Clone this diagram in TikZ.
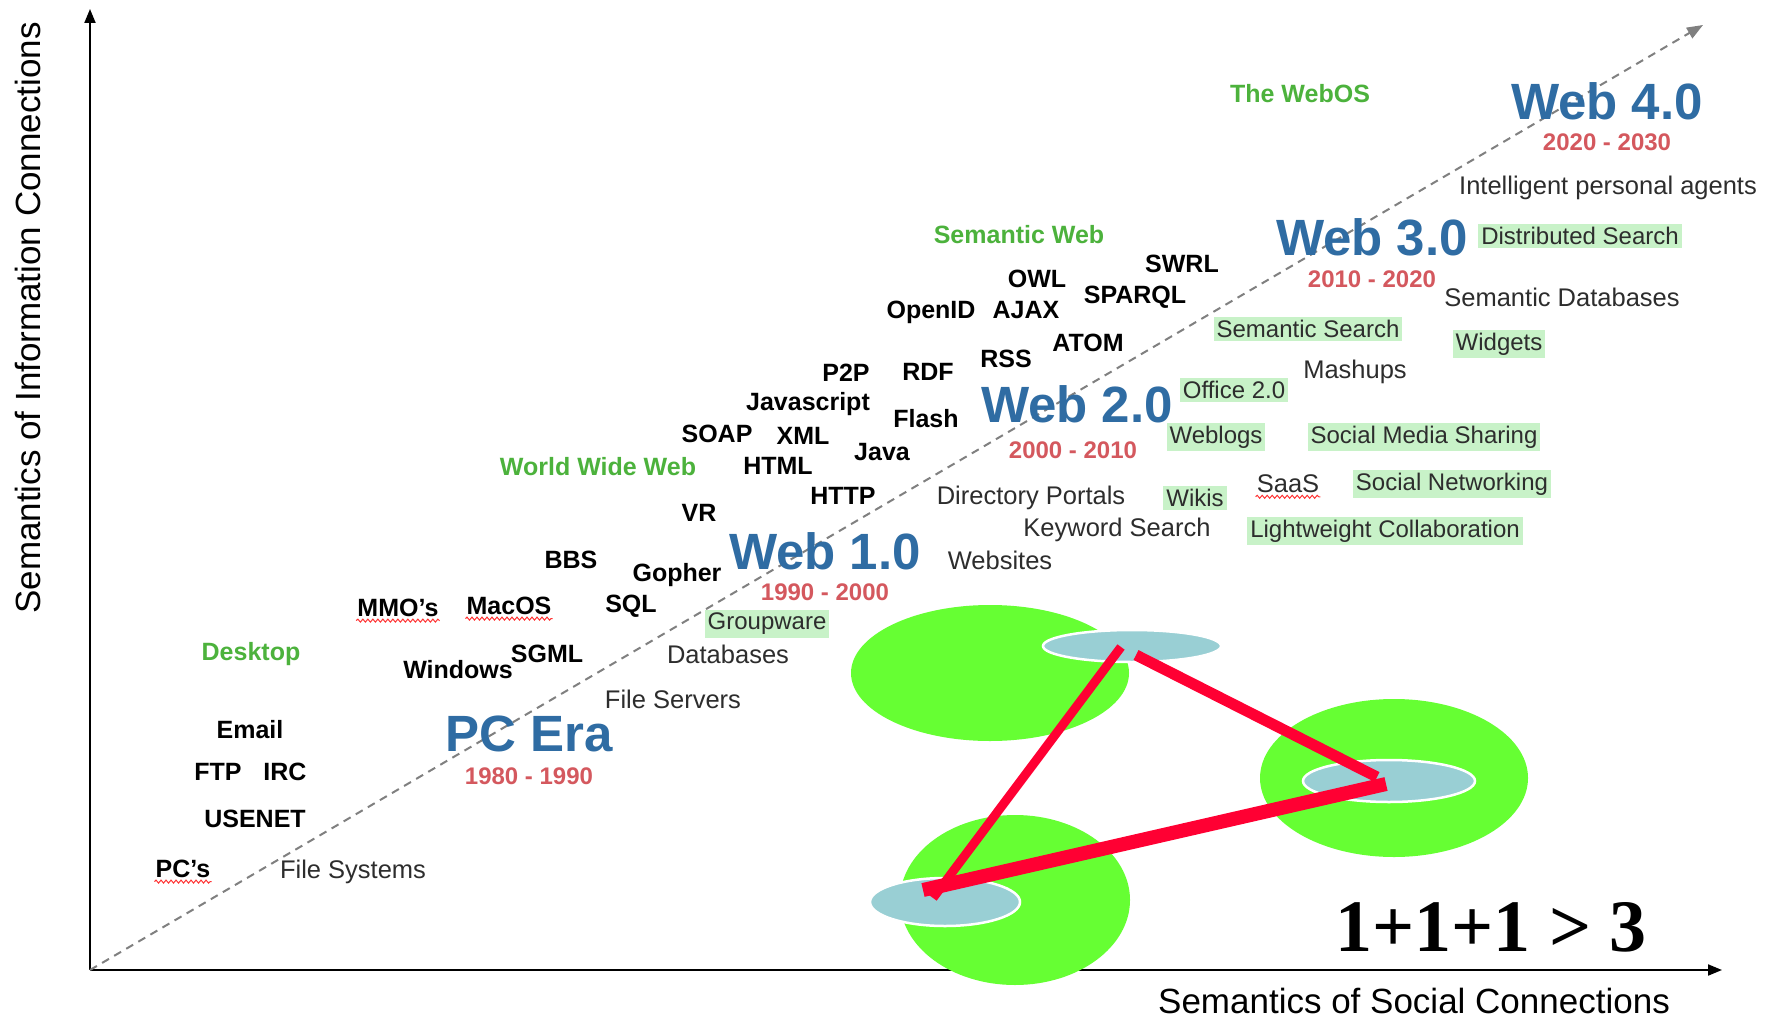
\documentclass[tikz,border=0pt]{standalone}
\usepackage{fontspec}
\setmainfont{Liberation Sans}
\newfontfamily\timesbold{Liberation Serif}
\usetikzlibrary{positioning,arrows.meta,shapes.geometric,decorations.pathmorphing}

\definecolor{webblue}{RGB}{47,108,163}
\definecolor{datered}{RGB}{212,88,94}
\definecolor{headgreen}{RGB}{76,178,60}
\definecolor{boxgreen}{RGB}{200,242,200}
\definecolor{blobgreen}{RGB}{102,255,51}
\definecolor{poolblue}{RGB}{153,207,212}
\definecolor{linkred}{RGB}{255,0,51}
\definecolor{labelgray}{RGB}{45,45,45}

\tikzset{
  era/.style={text=webblue, font=\bfseries\fontsize{51}{56}\selectfont, inner sep=0pt},
  span/.style={text=datered, font=\bfseries\fontsize{24}{28}\selectfont, inner sep=0pt},
  tech/.style={font=\bfseries\fontsize{25}{28}\selectfont, inner sep=1pt},
  heading/.style={text=headgreen, font=\bfseries\fontsize{25}{28}\selectfont, inner sep=1pt},
  plain/.style={text=labelgray, font=\fontsize{25.5}{28}\selectfont, inner sep=1pt},
  tag/.style={plain, font=\fontsize{24}{28}\selectfont, fill=boxgreen, inner sep=3pt},
  spell/.style={draw=red!80, line width=1pt, decorate, decoration={snake, amplitude=1.5pt, segment length=5pt}},
  pool/.style={ellipse, fill=poolblue, draw=white, line width=2.5pt, inner sep=0pt},
  link/.style={draw=linkred, line width=10pt},
  axis/.style={draw=black, line width=2pt, -{Triangle[length=14pt,width=11pt]}},
}

\begin{document}
\begin{tikzpicture}[x=1pt, y=-1pt]
\fill[white] (0,0) rectangle (1768,1024);
\useasboundingbox (0,0) rectangle (1768,1024);

\coordinate (origin) at (90,970);
\coordinate (ytop) at (90,9);
\coordinate (xend) at (1722,970);
\coordinate (future) at (1703,25);

\draw[axis] (origin) -- (ytop);
\draw[axis] (origin) -- (xend);
\draw[gray, line width=2pt, dash pattern=on 8pt off 6pt, -{Triangle[length=16pt,width=12pt]}] (origin) -- (future);

\node[rotate=90, font=\fontsize{35}{38}\selectfont, inner sep=0pt] (ylab) at (28,318) {Semantics of Information Connections};
\node[font=\fontsize{35}{38}\selectfont, inner sep=0pt] (xlab) at (1414,1001) {Semantics of Social Connections};

\node[era] (pcera) at (529,734) {PC Era};
\node[span, below=15pt of pcera] (d0) {1980 - 1990};
\node[era] (web1) at (825,551) {Web 1.0};
\node[span, below=14pt of web1] (d1) {1990 - 2000};
\node[era] (web2) at (1077,404) {Web 2.0};
\node[span, below=19pt of web2, xshift=-4pt] (d2) {2000 - 2010};
\node[era] (web3) at (1372,237) {Web 3.0};
\node[span, below=15pt of web3] (d3) {2010 - 2020};
\node[era] (web4) at (1607,101) {Web 4.0};
\node[span, below=14pt of web4] (d4) {2020 - 2030};

\node[heading] (desktop) at (251,654) {Desktop};
\node[heading] (www) at (598,467) {World Wide Web};
\node[heading] (semweb) at (1019,235) {Semantic Web};
\node[heading] (webos) at (1300,94) {The WebOS};

\node[tech] (pcs) at (183,869) {PC’s};
\node[tech] (usenet) at (255,819) {USENET};
\node[tech] (ftp) at (218,772) {FTP};
\node[tech] (irc) at (285,772) {IRC};
\node[tech] (email) at (250,730) {Email};
\node[tech] (windows) at (458,670) {Windows};
\node[tech] (sgml) at (547,654) {SGML};
\node[tech] (mmo) at (398,608) {MMO’s};
\node[tech] (macos) at (509,606) {MacOS};
\node[tech] (sql) at (631,606) {SQL};
\node[tech] (bbs) at (571,560) {BBS};
\node[tech] (gopher) at (677,575) {Gopher};
\node[tech] (vr) at (699,513) {VR};
\node[tech] (http) at (843,496) {HTTP};
\node[tech] (html) at (778,466) {HTML};
\node[tech] (java) at (882,452) {Java};
\node[tech] (soap) at (717,434) {SOAP};
\node[tech] (xml) at (803,436) {XML};
\node[tech] (flash) at (926,419) {Flash};
\node[tech] (javascript) at (808,404) {Javascript};
\node[tech] (ptp) at (846,373) {P2P};
\node[tech] (rdf) at (928,372) {RDF};
\node[tech] (rss) at (1006,359) {RSS};
\node[tech] (atom) at (1088,343) {ATOM};
\node[tech] (openid) at (931,312) {OpenID};
\node[tech] (ajax) at (1026,310) {AJAX};
\node[tech] (sparql) at (1135,297) {SPARQL};
\node[tech] (owl) at (1037,279) {OWL};
\node[tech] (swrl) at (1182,264) {SWRL};

\node[plain] (filesys) at (353,872) {File Systems};
\node[plain] (fileserv) at (673,699) {File Servers};
\node[plain] (databases) at (728,654) {Databases};
\node[tag] (groupware) at (767,624) {Groupware};
\node[plain] (websites) at (1000,560) {Websites};
\node[plain] (keyword) at (1117,530) {Keyword Search};
\node[plain] (portals) at (1031,498) {Directory Portals};
\node[tag] (wikis) at (1195,498) {Wikis};
\node[tag] (weblogs) at (1216,437) {Weblogs};
\node[tag] (office) at (1234,390) {Office 2.0};
\node[plain] (saas) at (1288,484) {SaaS};
\node[tag] (collab) at (1385,531) {Lightweight Collaboration};
\node[tag] (socnet) at (1452,484) {Social Networking};
\node[tag] (socmedia) at (1424,437) {Social Media Sharing};
\node[plain] (mashups) at (1355,372) {Mashups};
\node[tag] (semsearch) at (1308,329) {Semantic Search};
\node[tag] (widgets) at (1499,344) {Widgets};
\node[plain] (semdb) at (1562,297) {Semantic Databases};
\node[tag] (distsearch) at (1580,236) {Distributed Search};
\node[plain] (agents) at (1608,188) {Intelligent personal agents};

\draw[spell] ([yshift=-4pt]pcs.base west) -- ([yshift=-4pt]pcs.base east);
\draw[spell] ([yshift=-4pt]mmo.base west) -- ([yshift=-4pt]mmo.base east);
\draw[spell] ([yshift=-4pt]macos.base west) -- ([yshift=-4pt]macos.base east);
\draw[spell] ([yshift=-4pt]saas.base west) -- ([yshift=-4pt]saas.base east);

\fill[blobgreen] (990,673) ellipse [x radius=139pt, y radius=68pt];
\fill[blobgreen] (1394,778) ellipse [x radius=134pt, y radius=79pt];
\fill[blobgreen] (1015,900) ellipse [x radius=115pt, y radius=85pt];

\node[pool, minimum width=178pt, minimum height=32pt] (ptop) at (1132,646) {};
\node[pool, minimum width=172pt, minimum height=42pt] (pright) at (1389,781) {};
\node[pool, minimum width=150pt, minimum height=48pt] (pleft) at (945,902) {};

\coordinate (t1) at (1121,647);
\coordinate (t2) at (1136,655);
\coordinate (r1) at (1377,777);
\coordinate (r2) at (1386,784);
\coordinate (l1) at (933,898);
\coordinate (l2) at (923,890);

\draw[link, line width=9pt] (t1) -- (l1);
\draw[link, line width=11pt] (t2) -- (r1);
\draw[link, line width=14pt] (r2) -- (l2);

\node[font=\timesbold\bfseries\fontsize{74}{80}\selectfont, inner sep=0pt] (sum) at (1491,927) {1+1+1 > 3};
\end{tikzpicture}
\end{document}
